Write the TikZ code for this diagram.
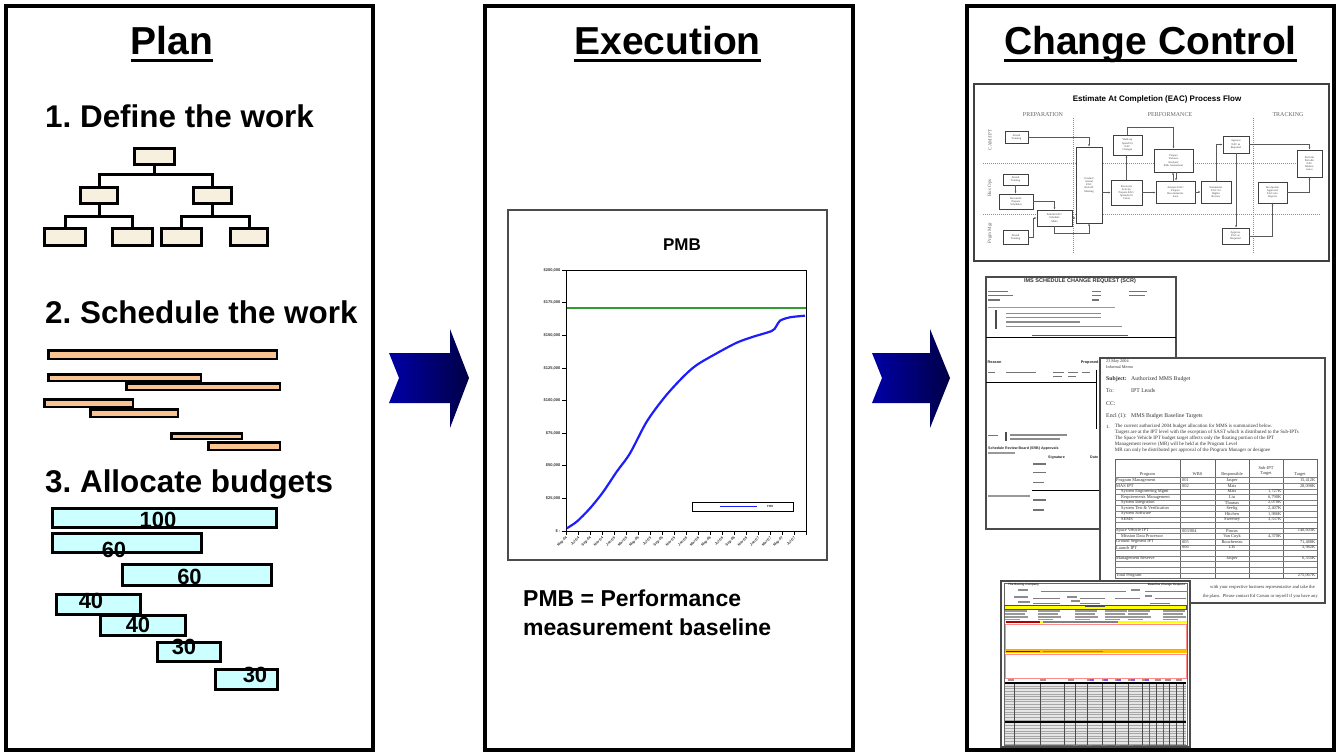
\documentclass[tikz,border=0pt]{standalone}
\usepackage{fontspec}
\setmainfont{Liberation Sans}
\newfontfamily\docserif{Liberation Serif}
\usetikzlibrary{arrows.meta,calc}
\definecolor{cream}{RGB}{247,240,222}
\definecolor{peach}{RGB}{250,196,146}
\definecolor{lcyan}{RGB}{204,255,255}
\definecolor{pmbblue}{RGB}{30,30,250}
\definecolor{pmbgreen}{RGB}{50,155,50}
\definecolor{arrL}{RGB}{0,0,165}
\definecolor{arrR}{RGB}{0,0,70}
\definecolor{docgray}{RGB}{75,75,75}
\definecolor{formyellow}{RGB}{255,255,0}
\definecolor{formorange}{RGB}{255,190,0}
\definecolor{formpink}{RGB}{255,140,140}
\newcommand{\myfs}[1]{\fontsize{#1}{#1}\selectfont}
\newcommand{\mybox}[7]{%
  \pgfmathsetmacro\bxw{#5-(#3)}%
  \pgfmathsetmacro\bxh{#6-(#4)}%
  \pgfmathsetmacro\bxc{(#3+#5)/2}%
  \pgfmathsetmacro\byc{(#4+#6)/2}%
  \node[#1, minimum width=\bxw pt, minimum height=\bxh pt] (#2) at (\bxc,\byc) {#7};}
\newcommand{\tbar}[4][black!55]{\fill[#1] (#2,{#3-0.55}) rectangle (#4,{#3+0.55});}
\newcommand{\trow}[7]{%
  \pgfmathsetmacro\ry{477.5+(#1-0.5)*5.6}%
  \node[tcell, anchor=west] (tr#1a) at (#2,\ry) {#3};
  \node[tcell, anchor=west] (tr#1b) at (1182,\ry) {#4};
  \node[tcell] (tr#1c) at (1232,\ry) {#5};
  \node[tcell, anchor=east] (tr#1d) at (1281.5,\ry) {#6};
  \node[tcell, anchor=east] (tr#1e) at (1315.5,\ry) {#7};}
\tikzset{
  panel/.style={draw, line width=4pt, inner sep=0},
  ptitle/.style={font=\bfseries\myfs{39}, inner sep=0, anchor=base},
  itemhead/.style={font=\bfseries\myfs{31.4}, inner sep=0, anchor=base west},
  wbsbox/.style={draw, line width=3pt, fill=cream, inner sep=0},
  wbsline/.style={line width=3pt},
  schedbar/.style={draw, line width=2.5pt, fill=peach, inner sep=0},
  budbar/.style={draw, line width=3pt, fill=lcyan, inner sep=0},
  budlab/.style={font=\bfseries\myfs{22}, inner sep=0, anchor=base},
  ylab/.style={font=\bfseries\myfs{4}, inner sep=0.5pt, anchor=east, text=black!80},
  xlab/.style={font=\bfseries\myfs{3.6}, inner sep=0.3pt, anchor=east, rotate=45, text=black!80},
  eacbox/.style={draw=black!75, line width=0.7pt, fill=white, inner sep=0, align=center,
    font=\docserif\fontsize{2.8}{3.2}\selectfont, text=black!75},
  eacarr/.style={draw=black!65, line width=0.5pt, -{Latex[length=2.2pt,width=1.8pt]}},
  lane/.style={draw=black!45, line width=0.5pt, dash pattern=on 1pt off 1pt},
  phase/.style={font=\docserif\myfs{6}, text=black!60, inner sep=0},
  doc/.style={draw=docgray, line width=1.8pt, fill=white},
  memo/.style={font=\docserif\myfs{5.8}, text=black!80, inner sep=0, anchor=west},
  memop/.style={font=\docserif\myfs{5}, text=black!80, inner sep=0, anchor=west},
  tcell/.style={font=\docserif\myfs{4.4}, text=black!80, inner sep=0},
  smallb/.style={font=\bfseries\myfs{3.8}, text=black!85, inner sep=0, anchor=west},
}
\begin{document}
\frenchspacing
\begin{tikzpicture}[x=1pt,y=-1pt]
\useasboundingbox (0,0) rectangle (1339,752);
% ---------- panels ----------
\mybox{panel}{plan}{6}{6}{372.5}{750}{}
\mybox{panel}{exec}{485}{6}{853}{750}{}
\mybox{panel}{cc}{967}{6}{1334}{750}{}
% titles
\node[ptitle] (tplan) at (172,55) {Plan};
\node[ptitle] (texec) at (667.5,55) {Execution};
\node[ptitle] (tcc) at (1150.5,55) {Change Control};
\foreach \t in {tplan,texec,tcc}
  \draw[line width=3pt] ([yshift=-6pt]\t.base west) -- ([yshift=-6pt]\t.base east);
% ---------- Plan ----------
\node[itemhead] (h1) at (45,127) {1. Define the work};
\node[itemhead] (h2) at (45,323) {2. Schedule the work};
\node[itemhead] (h3) at (45,492) {3. Allocate budgets};
% WBS
\mybox{wbsbox}{wtop}{134.5}{148.5}{174.5}{164.5}{}
\mybox{wbsbox}{wl2a}{80.5}{187.5}{117.5}{203.5}{}
\mybox{wbsbox}{wl2b}{193.5}{187.5}{231.5}{203.5}{}
\mybox{wbsbox}{wl3a}{44.5}{228.5}{85.5}{245.5}{}
\mybox{wbsbox}{wl3b}{112.5}{228.5}{152.5}{245.5}{}
\mybox{wbsbox}{wl3c}{161.5}{228.5}{201.5}{245.5}{}
\mybox{wbsbox}{wl3d}{230.5}{228.5}{267.5}{245.5}{}
\coordinate (j1) at (154.5,174.5);
\coordinate (j2) at (99,216);
\coordinate (j3) at (212.5,216);
\draw[wbsline] (wtop.south) -- (j1) -| (wl2a.north);
\draw[wbsline] (j1) -| (wl2b.north);
\draw[wbsline] (wl2a.south) -- (j2) -| (wl3a.north);
\draw[wbsline] (j2) -| (wl3b.north);
\draw[wbsline] (wl2b.south) -- (j3) -| (wl3c.north);
\draw[wbsline] (j3) -| (wl3d.north);
% schedule bars
\mybox{schedbar}{s1}{48.25}{350.25}{276.75}{358.75}{}
\mybox{schedbar}{s2}{48.25}{374.25}{200.75}{380.75}{}
\mybox{schedbar}{s3}{126.25}{383.25}{279.75}{389.75}{}
\mybox{schedbar}{s4}{44.25}{399.25}{132.75}{406.75}{}
\mybox{schedbar}{s5}{90.25}{409.25}{177.75}{416.75}{}
\mybox{schedbar}{s6}{171.25}{433.25}{241.75}{438.75}{}
\mybox{schedbar}{s7}{208.25}{442.25}{279.75}{449.75}{}
% budget bars
\mybox{budbar}{b1}{52.5}{508.5}{276.5}{527.5}{}
\mybox{budbar}{b2}{52.5}{533.5}{201.5}{552.5}{}
\mybox{budbar}{b3}{122.5}{564.5}{271.5}{585.5}{}
\mybox{budbar}{b4}{56.5}{594.5}{140.5}{614.5}{}
\mybox{budbar}{b5}{100.5}{615.5}{185.5}{635.5}{}
\mybox{budbar}{b6}{157.5}{642.5}{220.5}{661.5}{}
\mybox{budbar}{b7}{215.5}{669.5}{277.5}{689.5}{}
\node[budlab] (lb1) at (158,527) {100};
\node[budlab] (lb2) at (114,557) {60};
\node[budlab] (lb3) at (189.5,584) {60};
\node[budlab] (lb4) at (91,608) {40};
\node[budlab] (lb5) at (138,632) {40};
\node[budlab] (lb6) at (184,654) {30};
\node[budlab] (lb7) at (255,682) {30};
% ---------- arrows ----------
\shade[left color=arrL, right color=arrR] (389,353) -- (450,353) -- (450,329) -- (469,378) -- (450,428) -- (450,403) -- (389,403) -- (399,378) -- cycle;
\shade[left color=arrL, right color=arrR] (872,353) -- (930,353) -- (930,329) -- (950,378) -- (930,428) -- (930,403) -- (872,403) -- (882,378) -- cycle;
% ---------- Execution chart ----------
\draw[line width=1.3pt, black!70] (508,210) rectangle (827,560);
\node[font=\bfseries\myfs{17}, inner sep=0, anchor=base] (pmbt) at (682,250) {PMB};
\draw[pmbgreen, line width=2.5pt] (566,308) -- (806,308);
\draw[line width=1pt] (566,270) rectangle (806,531);
\foreach \k/\lab in {0/{\$200,000},1/{\$175,000},2/{\$150,000},3/{\$125,000},4/{\$100,000},5/{\$75,000},6/{\$50,000},7/{\$25,000},8/{\$ -}}{
  \draw[line width=0.6pt] (562,{270+\k*32.625}) -- (566,{270+\k*32.625});
  \node[ylab] (yl\k) at (561,{270+\k*32.625}) {\lab};
}
\foreach \k in {0,...,20}
  \draw[line width=0.6pt] ({566+12*\k},531) -- ({566+12*\k},535);
\foreach \k/\lab in {0/May-04,1/Jul-04,2/Sep-04,3/Nov-04,4/Jan-05,5/Mar-05,6/May-05,7/Jul-05,8/Sep-05,9/Nov-05,10/Jan-06,11/Mar-06,12/May-06,13/Jul-06,14/Sep-06,15/Nov-06,16/Jan-07,17/Mar-07,18/May-07,19/Jul-07}
  \node[xlab] (xl\k) at ({567+12*\k},537) {\lab};
\draw[pmbblue, line width=2.2pt] plot[smooth, tension=0.5] coordinates {(566.7,528.3) (576.7,521.7) (590,508.3) (603.3,491.7) (616.7,471.7) (630,453.3) (646.7,421.7) (665,396.7) (683.3,376.7) (696.7,365) (716.7,353.3) (736.7,342.7) (753.3,336.7) (771.7,331) (776,326.7) (780,320.7) (790,317.3) (805,315.7)};
\draw[line width=0.8pt] (692,502) rectangle (793,511);
\draw[pmbblue, line width=1pt] (720,506.5) -- (757,506.5);
\node[font=\myfs{3}, inner sep=0] (legt) at (770,506.5) {PMB};
\node[font=\bfseries\myfs{23}, inner sep=0, anchor=base west] (pmb1) at (523,606) {PMB = Performance};
\node[font=\bfseries\myfs{23}, inner sep=0, anchor=base west] (pmb2) at (523,635) {measurement baseline};
% ---------- Change control: doc 1 (EAC flow) ----------
\draw[doc, draw=black!75] (974,84) rectangle (1329,261);
\node[font=\bfseries\myfs{8}, inner sep=0] (eact) at (1157,99) {Estimate At Completion (EAC) Process Flow};
\node[phase] (ph1) at (1043,115) {PREPARATION};
\node[phase] (ph2) at (1170,115) {PERFORMANCE};
\node[phase] (ph3) at (1288,115) {TRACKING};
\node[phase, font=\docserif\myfs{5}, rotate=90] (ln1) at (990,140) {CAM/IPT};
\node[phase, font=\docserif\myfs{5}, rotate=90] (ln2) at (990,188) {Bus Ops};
\node[phase, font=\docserif\myfs{5}, rotate=90] (ln3) at (990,233) {Prgm Mgr};
\draw[lane] (983,163) -- (1320,163);
\draw[lane] (983,214) -- (1320,214);
\draw[lane] (1073,118) -- (1073,253);
\draw[lane] (1253,118) -- (1253,253);
\mybox{eacbox}{at1}{1005}{131}{1028}{143}{Attend\\Training}
\mybox{eacbox}{at2}{1003}{174}{1028}{185}{Attend\\Training}
\mybox{eacbox}{rec}{999}{194}{1033}{209}{Reconcile/\\Prepare\\Schedules}
\mybox{eacbox}{sub}{1037}{210}{1072}{226}{Submit EAC/\\Schedule\\Mstrs}
\mybox{eacbox}{at3}{1003}{230}{1028}{244}{Attend\\Training}
\mybox{eacbox}{con}{1076}{147}{1102}{223}{Conduct/\\Attend\\EAC\\Kickoff\\Meeting}
\mybox{eacbox}{walk}{1113}{135}{1142}{155}{Walk-up\\Spend for\\EAC\\Changes}
\mybox{eacbox}{rea}{1111}{180}{1142}{205}{Reconcile\\Activity/\\Prepare EAC/\\Spreads for\\Cobra}
\mybox{eacbox}{pva}{1154}{149}{1193}{172}{Prepare\\Variance\\Analysis/\\Risk Assessment}
\mybox{eacbox}{ana}{1156}{181}{1195}{203}{Analyze EAC/\\Prepare\\Recommenda-\\tions}
\mybox{eacbox}{sum}{1201}{181}{1231}{203}{Summarize\\EAC for\\Higher\\Review}
\mybox{eacbox}{app1}{1223}{136}{1249}{153}{Approve\\EAC as\\Required}
\mybox{eacbox}{app2}{1222}{228}{1249}{244}{Approve\\EAC as\\Required}
\mybox{eacbox}{inc}{1258}{182}{1287}{203}{Incorporate\\Approved\\EAC into\\Reports}
\mybox{eacbox}{per}{1297}{150}{1322}{177}{Perform\\Periodic\\EAC\\Mainte-\\nance}
\draw[eacarr] (at1.east) -| (con.north);
\draw[eacarr] (at2.south) -- (at2.south |- rec.north);
\draw[eacarr] (rec.east) -| (sub.north);
\draw[eacarr] (at3.east) -- ++(5,0) |- (sub.west);
\draw[eacarr] (sub.south) -- ++(0,7) -| (con.south);
\draw[eacarr] (sub.east) -- (sub.east -| con.west);
\draw[eacarr] (con.east |- rea.west) -- (rea.west);
\draw[eacarr] (rea.north) -- (rea.north |- walk.south);
\draw[eacarr] (walk.north) -- ++(0,-7) -| (pva.north);
\draw[eacarr] (rea.east) -- (rea.east -| ana.west);
\draw[eacarr] ([xshift=-2.5pt]ana.north) -- ([xshift=-2.5pt]ana.north |- pva.south);
\draw[eacarr] ([xshift=2.5pt]pva.south) -- ([xshift=2.5pt]pva.south |- ana.north);
\draw[eacarr] (ana.east) -- (ana.east -| sum.west);
\draw[eacarr] (sum.north) |- (app1.west);
\draw[eacarr] (app1.east) -| (per.north);
\draw[eacarr] (app1.south) -- (app1.south |- app2.north);
\draw[eacarr] (app2.east) -| (inc.south);
\draw[eacarr] (inc.east) -| (per.south);
% ---------- doc 2 (schedule change request) ----------
\draw[doc] (986,277) rectangle (1176,529);
\node[font=\bfseries\myfs{5.5}, inner sep=0, text=black!80] (d2t) at (1080,281) {IMS SCHEDULE CHANGE REQUEST (SCR)};
\tbar{988}{291.3}{1008} \tbar{988}{295.7}{1013} \tbar{988}{300}{1000}
\tbar{1092}{291.3}{1101} \tbar{1092}{295.7}{1101} \tbar{1092}{300}{1099}
\tbar{1129}{291.3}{1147} \tbar{1129}{295.7}{1145}
\tbar[black!40]{988}{307.3}{1115}
\fill[black!70] (995.3,310) rectangle (996.8,329);
\tbar[black!45]{1006}{313.3}{1101} \tbar[black!45]{1006}{317.7}{1101}
\tbar[black!45]{1006}{322}{1080} \tbar[black!45]{1006}{326.3}{1122}
\tbar[black!65]{1032}{335.2}{1128}
\draw[line width=1pt] (986,337.5) -- (1176,337.5);
\node[smallb] (d2r) at (987.5,362.3) {Reason};
\node[smallb] (d2p) at (1080.7,362.3) {Proposed};
\tbar{988}{372.3}{995} \tbar{1006}{372.3}{1036} \tbar{1053}{372.3}{1064} \tbar{1068}{372.3}{1078} \tbar{1082}{372.3}{1090}
\tbar{1053}{376.3}{1062} \tbar{1068}{376.3}{1076}
\draw[line width=1pt] (986,382) -- (1096,382);
\draw[line width=1pt] (1096,370) -- (1096,429);
\tbar{988}{435.5}{998} \fill[black!70] (1005.3,432) rectangle (1006.8,441);
\tbar[black!45]{1010}{435}{1067} \tbar[black!45]{1010}{439}{1060}
\node[smallb, font=\bfseries\myfs{3.6}] (d2s) at (988,449) {Schedule Review Board (SRB) Approvals};
\tbar[black!40]{988}{453}{1015}
\node[smallb, font=\bfseries\myfs{3.6}] (d2sig) at (1048,457.3) {Signature};
\node[smallb, font=\bfseries\myfs{3.6}] (d2d) at (1090,457.3) {Date};
\tbar{1033}{464}{1046} \tbar{1033}{472.7}{1046} \tbar{1033}{482.7}{1044}
\draw[line width=1pt] (1032,490) -- (1099,490);
\tbar[black!40]{988}{496}{1030}
\tbar{1033}{500}{1046} \tbar{1033}{510}{1044}
% ---------- doc 3 (memo) ----------
\draw[doc, line width=2pt] (1100,358) rectangle (1325,603);
\node[memop, font=\docserif\myfs{4.2}] (m1) at (1106,361.7) {23 May 2004};
\node[memop, font=\docserif\myfs{4.2}] (m2) at (1106,367.2) {Informal Memo};
\node[memo] (m3) at (1106,379) {\textbf{Subject:}};
\node[memo] (m3b) at (1131,379) {Authorized MMS Budget};
\node[memo] (m4) at (1106,391) {To:};
\node[memo] (m4b) at (1131,391) {IPT Leads};
\node[memo] (m5) at (1106,403.3) {CC:};
\node[memo] (m6) at (1106,415.7) {Encl (1):};
\node[memo] (m6b) at (1131,415.7) {MMS Budget Baseline Targets};
\node[memop] (m7) at (1106,426.7) {1.};
\node[memop] (m7b) at (1114.7,426.7) {The current authorized 2004 budget allocation for MMS is summarized below.};
\node[memop] (m8) at (1114.7,432.5) {Targets are at the IPT level with the exception of SAST which is distributed to the Sub-IPTs};
\node[memop] (m9) at (1114.7,438.4) {The Space Vehicle IPT budget target affects only the floating portion of the IPT};
\node[memop] (m10) at (1114.7,444.3) {Management reserve (MR) will be held at the Program Level};
\node[memop] (m11) at (1114.7,450.2) {MR can only be distributed per approval of the Program Manager or designee};
% table
\draw[black!60, line width=0.5pt] (1115,459) rectangle (1317,578.3);
\foreach \cx in {1180,1215,1249,1283} \draw[black!60, line width=0.5pt] (\cx,459) -- (\cx,578.3);
\foreach \r in {0,...,17} \draw[black!50, line width=0.4pt] (1115,{477.5+\r*5.6}) -- (1317,{477.5+\r*5.6});
\node[tcell] (th1) at (1147.5,474.5) {Program};
\node[tcell] (th2) at (1197.5,474.5) {WBS};
\node[tcell] (th3) at (1232,474.5) {Responsible};
\node[tcell, align=center, font=\docserif\fontsize{4.4}{5}\selectfont] (th4) at (1266,471) {Sub-IPT\\Target};
\node[tcell] (th5) at (1300,474.5) {Target};
\trow{1}{1116}{Program Management}{001}{Jasper}{}{15,412K}
\trow{2}{1116}{MAS IPT}{002}{Mais}{}{28,098K}
\trow{3}{1121}{System Engineering Mgmt}{}{Mais}{1,727K}{}
\trow{4}{1121}{Requirements Management}{}{Liu}{6,790K}{}
\trow{5}{1121}{System Integration}{}{Thomas}{2,070K}{}
\trow{6}{1121}{System Test \& Verification}{}{Seelig}{2,407K}{}
\trow{7}{1121}{System Software}{}{Hitchen}{1,986K}{}
\trow{8}{1121}{SEMS}{}{Sweeney}{3,537K}{}
\trow{10}{1116}{Space Vehicle IPT}{003/004}{Pincus}{}{140,603K}
\trow{11}{1121}{Mission Data Processor}{}{Van Cuyk}{4,370K}{}
\trow{12}{1116}{Ground Segment IPT}{005}{Bouchereau}{}{71,488K}
\trow{13}{1116}{Launch IPT}{006}{LTs}{}{3,982K}
\trow{15}{1116}{Management Reserve}{}{Jasper}{}{6,335K}
\trow{18}{1116}{Total Program}{}{}{}{275,067K}
\node[memop, anchor=east, font=\docserif\myfs{4.6}] (m12) at (1315,587) {with your respective business representative and take the};
\node[memop, anchor=east, font=\docserif\myfs{4.6}] (m13) at (1318,596) {the plans.\ \ Please contact Ed Carson or myself if you have any};
% ---------- doc 4 (form) ----------
\draw[doc, line width=2pt] (1001,581) rectangle (1190,747);
\draw[black!60, line width=0.4pt] (1004,583.5) rectangle (1187,745);
\node[smallb, font=\bfseries\myfs{3}] (f1) at (1008,584.5) {The Boeing Company};
\node[smallb, anchor=east, font=\bfseries\myfs{3}] (f2) at (1185,584.5) {Baseline Change Request};
\draw[black!50, line width=0.4pt] (1041,591.3) -- (1126,591.3) (1145,591.3) -- (1188,591.3);
\draw[black!50, line width=0.4pt] (1033,598) -- (1060,598) (1080,598) -- (1105,598) (1115,598) -- (1140,598) (1155,598) -- (1186,598);
\draw[black!50, line width=0.4pt] (1033,603) -- (1060,603) (1080,603) -- (1100,603) (1150,603) -- (1170,603);
\tbar[black!45]{1018}{590}{1028} \tbar[black!45]{1131}{590}{1140}
\tbar[black!45]{1014}{597}{1028} \tbar[black!45]{1067}{597}{1077} \tbar[black!45]{1145}{596}{1152}
\tbar[black!45]{1018}{602}{1030} \tbar[black!45]{1071}{601}{1080}
\fill[formyellow] (1004.5,604.7) rectangle (1186.5,608.7);
\draw[black!70, line width=0.3pt] (1004.5,604.7) rectangle (1186.5,608.7);
\tbar[black!70]{1085}{606.7}{1105}
\foreach \cx in {1005,1038,1075,1105,1128,1163}{
  \tbar[black!40]{\cx}{611}{\cx+22} \tbar[black!40]{\cx}{614}{\cx+20} \tbar[black!40]{\cx}{617}{\cx+23} \tbar[black!40]{\cx}{619.6}{\cx+15}
}
\fill[formyellow] (1004.5,620.7) rectangle (1186.5,623.3);
\tbar[red!70!black]{1006}{622}{1040} \tbar[black!50]{1043}{622}{1118}
\draw[formpink, line width=0.9pt] (1005.5,624.3) rectangle (1186,649.5);
\fill[formorange] (1004.5,649.7) rectangle (1186.5,653.3);
\tbar[red!60!black]{1006}{651.5}{1040} \tbar[black!50]{1043}{651.5}{1103}
\draw[formpink, line width=0.9pt] (1005.5,654) rectangle (1186,678);
\foreach \cx in {1008,1040,1068,1087,1102,1115,1128,1142,1155,1165,1176}
  \tbar[black!40]{\cx}{680}{\cx+6};
\foreach \cx in {1090,1104,1117,1131,1145}
  \tbar[blue!60]{\cx}{680}{\cx+4};
\fill[black!10] (1005,684) rectangle (1186,720.5);
\fill[black!10] (1005,723.3) rectangle (1186,744.5);
\foreach \r in {0,...,13} \draw[black!35, line width=0.3pt] (1005,{686+\r*2.6}) -- (1186,{686+\r*2.6});
\foreach \r in {0,...,7} \draw[black!35, line width=0.3pt] (1005,{725.5+\r*2.6}) -- (1186,{725.5+\r*2.6});
\foreach \cx in {1014.7,1040.7,1064,1075.3,1087.3,1102,1115.3,1128,1142,1156.3,1169.7,1176.3,1183}
  \draw[black!70, line width=0.5pt] (\cx,684) -- (\cx,744.5);
\draw[blue!70, line width=0.5pt] (1149.7,684) -- (1149.7,744.5);
\draw[blue!70, line width=0.5pt] (1163,684) -- (1163,744.5);
\draw[black, line width=1.6pt] (1005,683) -- (1186,683);
\draw[black, line width=1.6pt] (1005,722) -- (1186,722);
\foreach \cx in {1073,1087,1101,1115,1128,1142}
  \tbar[blue!60]{\cx}{745.6}{\cx+5};
\end{tikzpicture}
\end{document}
